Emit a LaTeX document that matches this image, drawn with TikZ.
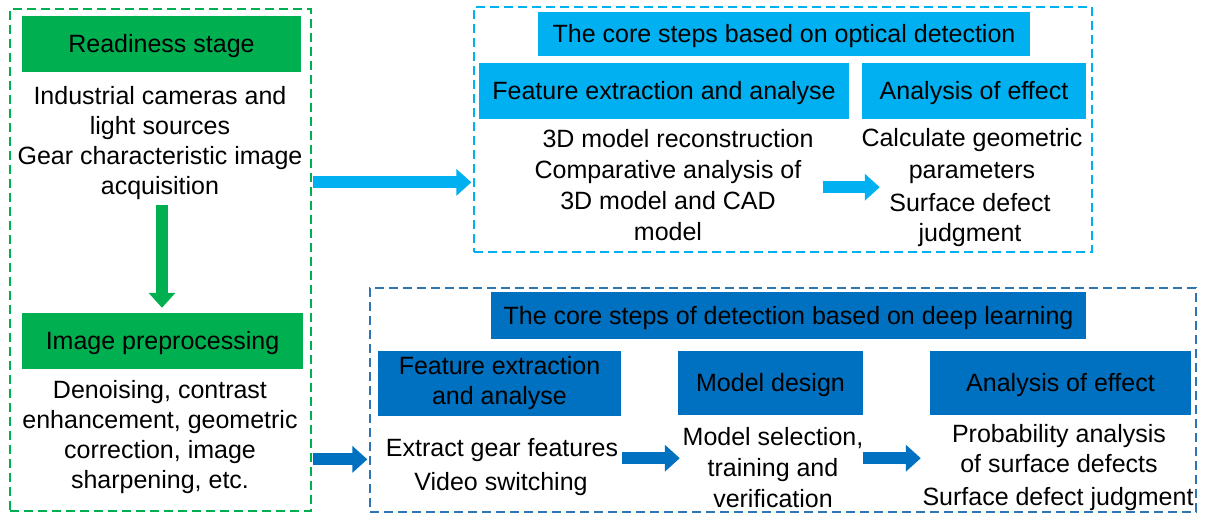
\documentclass[tikz,border=0pt]{standalone}
\usepackage{fontspec}
\setmainfont{Liberation Sans}
\usetikzlibrary{arrows.meta,calc}
\definecolor{cgreen}{HTML}{00B050}
\definecolor{clblue}{HTML}{00B0F0}
\definecolor{cdblue}{HTML}{0070C0}
\definecolor{cdbord}{HTML}{2E75B6}
\begin{document}
\begin{tikzpicture}[x=1pt,y=-1pt,
  font=\fontsize{25}{30}\selectfont,
  frame/.style={draw, line width=1.3pt, dash pattern=on 9pt off 5pt, inner sep=0pt},
  hdr/.style={inner sep=0pt, align=center, text=black},
  hdrone/.style={hdr, text height=19pt, text depth=2pt},
  txt/.style={inner sep=0pt, align=center, text=black},
  blk/.style={line width=12pt, -{Triangle[width=26pt,length=15pt]}},
]
\useasboundingbox (0,0) rectangle (1210,515);
% frames
\node[frame, draw=cgreen, minimum width=301pt, minimum height=502pt] (lbox) at (160.5,260) {};
\node[frame, draw=clblue, minimum width=618pt, minimum height=245pt] (obox) at (783,129.5) {};
\node[frame, draw=cdbord, minimum width=826pt, minimum height=224pt] (dbox) at (783,400) {};
% headers
\node[hdrone, fill=cgreen, minimum width=279pt, minimum height=56pt] (ready) at (161.5,44) {Readiness stage};
\node[hdrone, fill=cgreen, minimum width=281pt, minimum height=56pt] (pre) at (162.5,341) {Image preprocessing};
\node[hdrone, fill=clblue, minimum width=492pt, minimum height=44pt] (ocore) at (784,34) {The core steps based on optical detection};
\node[hdrone, fill=clblue, minimum width=370pt, minimum height=56pt] (ofeat) at (664,91) {Feature extraction and analyse};
\node[hdrone, fill=clblue, minimum width=224pt, minimum height=56pt] (oeff) at (974,91) {Analysis of effect};
\node[hdrone, fill=cdblue, minimum width=595pt, minimum height=47pt] (dcore) at (788.5,315.5) {The core steps of detection based on deep learning};
\node[hdr, fill=cdblue, minimum width=243pt, minimum height=65pt] (dfeat) at (499.5,383.5) {Feature extraction\\and analyse};
\node[hdrone, fill=cdblue, minimum width=185pt, minimum height=64pt] (dmod) at (770.5,383) {Model design};
\node[hdrone, fill=cdblue, minimum width=261pt, minimum height=64pt] (deff) at (1060.5,383) {Analysis of effect};
% texts
\node[txt] (lt1) at (160,143.5) {Industrial cameras and\\light sources\\Gear characteristic image\\acquisition};
\node[txt] (lt2) at (160,437) {Denoising, contrast\\enhancement, geometric\\correction, image\\sharpening, etc.};
\node[txt] (ot1) at (678,139) {3D model reconstruction};
\node[txt] (ot2) at (668,201) {Comparative analysis of\\[1pt]3D model and CAD\\[1pt]model};
\node[txt] (ot3) at (972,156) {Calculate geometric\\[2pt]parameters};
\node[txt] (ot4) at (970,220) {Surface defect\\judgment};
\node[txt] (dt1) at (502,450) {Extract gear features};
\node[txt] (dt2) at (501,484) {Video switching};
\node[txt] (dt3) at (773,468) {Model selection,\\[1pt]training and\\[1pt]verification};
\node[txt] (dt4) at (1059,449) {Probability analysis\\of surface defects};
\node[txt] (dt5) at (1058,499) {Surface defect judgment};
% arrows
\draw[blk, cgreen] ($(ready.south)+(0.5,133)$) -- ($(pre.north)+(-0.5,-5)$);
\draw[blk, clblue] ($(lbox.north east)+(1,174)$) -- ($(obox.north west)+(-2,176)$);
\draw[blk, clblue] ($(oeff.south west)+(-39,68)$) -- ($(oeff.south west)+(18,68)$);
\draw[blk, cdblue] ($(lbox.north east)+(1,451)$) -- ($(dbox.north west)+(-2,172)$);
\draw[blk, cdblue] ($(dfeat.south east)+(1,42)$) -- ($(dmod.south west)+(2,43)$);
\draw[blk, cdblue] ($(dmod.south east)+(0,43)$) -- ($(deff.south west)+(-9,43)$);
\end{tikzpicture}
\end{document}
